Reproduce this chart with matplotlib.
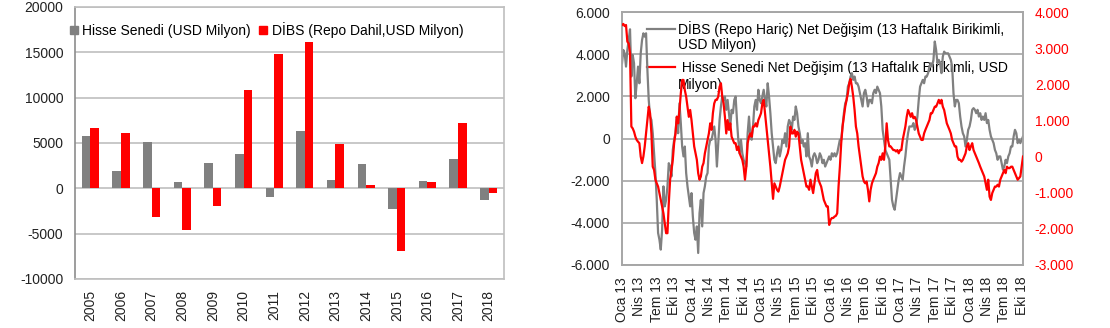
import numpy as np
import matplotlib
matplotlib.use("Agg")
import matplotlib.pyplot as plt
from matplotlib.lines import Line2D

plt.rcParams['font.family'] = ['Liberation Sans', 'DejaVu Sans']

# ---------------- Left chart data ----------------
years = ['2005', '2006', '2007', '2008', '2009', '2010', '2011', '2012',
         '2013', '2014', '2015', '2016', '2017', '2018']
hisse = [5750, 1900, 5100, 650, 2800, 3750, -950, 6350, 900, 2650, -2300, 800, 3250, -1300]
dibs = [6600, 6100, -3200, -4650, -1950, 10800, 14800, 16150, 4850, 400, -6900, 650, 7200, -550]
left_yticks = [-10000, -5000, 0, 5000, 10000, 15000, 20000]
left_ylabels = ['-10000', '-5000', '0', '5000', '10000', '15000', '20000']

# ---------------- Right chart data (weekly) ----------------
dibs_weekly = [
    3570, 4200, 4040, 3410, 4200, 4670, 5180, 2940, 3960, 3570, 1910, 2620, 3410, 2620, 4040, 4670,
    4990, 4830, 4990, 3250, 1830, 1040, 880, 250, -700, -1640, -2910, -4480, -4800, -5270, -4330, -2270,
    -3220, -2910, -2270, -1170, -1330, -1800, -540, -60, 250, 1040, 250, 1670, 730, -380, -850, -380,
    -1640, -2270, -2750, -3220, -2590, -3700, -4480, -4800, -4170, -5430, -3540, -2910, -4170, -2590, -2270, -1800,
    -1640, -380, -60, -60, 250, 570, -60, -1330, -220, 880, 1520, 1990, 1830, 1990, 1360, 1830,
    1200, 570, 1360, 1200, 1830, 1990, 880, -60, -700, -60, -700, -1010, -1170, -1330, 250, 1040,
    100, -60, 570, 1520, 1830, 1360, 2310, 1830, 1670, 1990, 2310, 1830, 1520, 2620, 1990, 1200,
    250, -380, -1010, -1170, -700, -380, -850, -540, -60, -220, 250, -380, 570, 880, 730, 410,
    1040, 880, 1520, 1200, 570, 250, -220, -60, -380, -220, -850, 250, -850, -1010, -1330, -850,
    -700, -850, -1170, -1010, -700, -850, -1170, -1010, -1330, -1170, -1010, -850, -1010, -700, -850, -700,
    -850, -700, -380, -60, -60, 570, 1200, 1670, 1830, 2460, 2620, 2940, 3100, 2780, 2940, 2620,
    2620, 2460, 2150, 1830, 1520, 2150, 2310, 1990, 1520, 1830, 1830, 1670, 2150, 2310, 2150, 2460,
    2310, 2150, 1520, 410, -60, -540, -700, -850, -1010, -1960, -2910, -3220, -3380, -2910, -2430, -1960,
    -1640, -1800, -1960, -1330, -850, -220, 250, 570, 570, 570, 730, 410, 570, 1040, 1830, 2460,
    2620, 2780, 2620, 2940, 2940, 3100, 3410, 3570, 3410, 3730, 4600, 4200, 3570, 3730, 3570, 3100,
    3880, 4120, 4040, 4040, 4040, 3880, 3730, 3410, 2150, 1520, 1830, 1830, 1670, 1040, 570, 250,
    100, -380, -60, 410, 570, 880, 1360, 1440, 1360, 1200, 1360, 1040, 1200, 880, 1040, 880,
    1200, 730, 880, 410, 100, -60, -220, -540, -700, -1010, -850, -850, -1170, -1480, -1330, -1010,
    -1170, -850, -700, -380, -380, 100, 410, 250, -220, -60, -220, -60, 100,
]
hisse_weekly = [
    3640, 3670, 3610, 3640, 3180, 3130, 2860, 830, 780, 690, 550, 460, 410, 370, 0, -180,
    0, 280, 640, 1010, 1380, 1200, 640, -280, -370, -640, -740, -830, -1010, -1200, -1380, -1570,
    -1840, -2120, -2120, -1290, -640, -370, -90, 370, 640, 1100, 920, 1290, 1750, 2120, 2120, 1840,
    1660, 1380, 1100, 1290, 1010, 640, 280, 90, -90, -460, -640, -550, -280, -180, 90, 280,
    460, 640, 920, 740, 1200, 1470, 1570, 1570, 1660, 1930, 2030, 1660, 1470, 1100, 640, 1010,
    740, 920, 550, 460, 370, 370, 180, 280, 90, 0, -90, -280, -640, -280, 370, 550,
    640, 550, 830, 830, 920, 830, 1010, 1100, 1200, 1470, 1570, 1200, 830, 460, 90, -280,
    -740, -1170, -740, -830, -920, -970, -830, -640, -460, -280, -90, 0, 90, 280, 830, 640,
    640, 740, 550, 690, 640, 280, -90, -280, -460, -640, -830, -830, -920, -640, -830, -1010,
    -740, -460, -370, -640, -740, -830, -1010, -1200, -1290, -1380, -1380, -1890, -1750, -1700, -1700, -1660,
    -1640, -1570, -830, -280, 370, 830, 1100, 1380, 1570, 1750, 2030, 2150, 1930, 1660, 1290, 830,
    640, 280, 0, -280, -550, -690, -740, -690, -920, -1240, -920, -740, -640, -550, -460, -280,
    -180, 0, -90, 90, -90, 280, 920, 460, 280, 280, 230, 180, 180, 140, 180, 90,
    180, 180, 460, 640, 830, 1100, 1290, 1200, 1100, 1200, 1060, 1100, 1010, 830, 640, 550,
    460, 460, 640, 740, 830, 920, 1010, 1200, 1200, 1290, 1380, 1380, 1470, 1570, 1470, 1570,
    1380, 1290, 1100, 920, 830, 740, 640, 460, 370, 280, 280, 0, -90, -90, -140, -90,
    0, 90, 280, 370, 180, 280, 370, 180, 90, 0, -90, -180, -280, -370, -460, -550,
    -740, -920, -640, -1110, -1200, -1010, -920, -830, -830, -780, -830, -640, -550, -460, -370, -460,
    -280, -320, -320, -280, -280, -370, -460, -550, -640, -600, -550, -280, 0,
]
quarter_labels = ['Oca 13', 'Nis 13', 'Tem 13', 'Eki 13', 'Oca 14', 'Nis 14', 'Tem 14', 'Eki 14',
                  'Oca 15', 'Nis 15', 'Tem 15', 'Eki 15', 'Oca 16', 'Nis 16', 'Tem 16', 'Eki 16',
                  'Oca 17', 'Nis 17', 'Tem 17', 'Eki 17', 'Oca 18', 'Nis 18', 'Tem 18', 'Eki 18']
r_left_ticks = [-6000, -4000, -2000, 0, 2000, 4000, 6000]
r_left_labels = ['-6.000', '-4.000', '-2.000', '0', '2.000', '4.000', '6.000']
r_right_ticks = [-3000, -2000, -1000, 0, 1000, 2000, 3000, 4000]
r_right_labels = ['-3.000', '-2.000', '-1.000', '0', '1.000', '2.000', '3.000', '4.000']

GRAY = '#808080'
RED = '#FF0000'
FS = 10

fig = plt.figure(figsize=(11.1, 3.28), dpi=100)

# ================= Left chart =================
ax = fig.add_axes([75/1110, 1-279/328, (504-75)/1110, (279-7)/328])
x = np.arange(len(years))
w = 0.28
ax.bar(x - w/2, hisse, width=w, color=GRAY, zorder=3)
ax.bar(x + w/2, dibs, width=w, color=RED, zorder=3)
ax.set_xlim(-0.5, len(years) - 0.5)
ax.set_ylim(-10000, 20000)
ax.set_yticks(left_yticks)
ax.set_yticklabels(left_ylabels)
ax.set_xticks(x)
ax.set_xticklabels(years, rotation=90)
ax.tick_params(axis='both', length=0, labelsize=FS, colors='#222222')
ax.tick_params(axis='y', pad=8.5)
ax.tick_params(axis='x', pad=8)
ax.yaxis.grid(True, color='#BFBFBF', linewidth=1.2, zorder=0)
ax.set_axisbelow(True)
for s in ax.spines.values():
    s.set_color('#BFBFBF')
    s.set_linewidth(1.2)
ax.spines['left'].set_color('#8C8C8C')

h1 = Line2D([], [], color=GRAY, marker='s', markersize=5.5, linestyle='None')
h2 = Line2D([], [], color=RED, marker='s', markersize=5.5, linestyle='None')
ax.legend([h1, h2], ['Hisse Senedi (USD Milyon)', 'DİBS (Repo Dahil,USD Milyon)'],
          loc='center left', bbox_to_anchor=(-0.012, 0.915), ncol=2, frameon=False,
          fontsize=FS, handlelength=0.6, handletextpad=0.3, columnspacing=0.6,
          borderpad=0, borderaxespad=0)

# ================= Right chart =================
ax1 = fig.add_axes([622/1110, 1-265/328, 401/1110, 253/328])
ax2 = ax1.twinx()
t = np.arange(len(dibs_weekly))
ax1.plot(t, dibs_weekly, color=GRAY, linewidth=1.6, zorder=3)
ax2.plot(t, hisse_weekly, color=RED, linewidth=1.6, zorder=3)
ax1.set_xlim(0, len(dibs_weekly) - 1)
ax1.set_ylim(-6000, 6000)
ax2.set_ylim(-3000, 4000)
ax1.set_yticks(r_left_ticks)
ax1.set_yticklabels(r_left_labels)
ax2.set_yticks(r_right_ticks)
ax2.set_yticklabels(r_right_labels)
ax1.set_xticks(np.arange(len(quarter_labels)) * 13)
ax1.set_xticklabels(quarter_labels, rotation=90)
ax1.tick_params(axis='both', length=0, labelsize=FS, colors='#222222')
ax1.tick_params(axis='y', pad=8.5)
ax1.tick_params(axis='x', pad=8.5)
ax2.tick_params(axis='y', length=0, labelsize=FS, colors=RED, pad=8.5)
ax1.yaxis.grid(True, color='#A6A6A6', linewidth=1.2, zorder=0)
ax1.set_axisbelow(True)
for a in (ax1, ax2):
    for s in a.spines.values():
        s.set_color('#A6A6A6')
        s.set_linewidth(1.2)

lh1 = Line2D([], [], color=GRAY, linewidth=1.6)
lh2 = Line2D([], [], color=RED, linewidth=1.6)
leg = ax1.legend([lh1, lh2],
                 ['DİBS (Repo Hariç) Net Değişim (13 Haftalık Birikimli,',
                  ' Hisse Senedi Net Değişim (13 Haftalık Birikimli, USD'],
                 loc='center left', bbox_to_anchor=((647-622)/401, 1-(48-12)/253),
                 frameon=False, fontsize=FS, handlelength=2.0, handletextpad=0.2,
                 labelspacing=1.75, borderpad=0, borderaxespad=0)
leg.set_zorder(1)
ax1.text((678-622)/401, 1-(45-12)/253, 'USD Milyon)', transform=ax1.transAxes,
         fontsize=FS, va='center', ha='left', zorder=1)
ax1.text((678-622)/401, 1-(85-12)/253, 'Milyon)', transform=ax1.transAxes,
         fontsize=FS, va='center', ha='left', zorder=1)

fig.savefig('out.png', dpi=100)
